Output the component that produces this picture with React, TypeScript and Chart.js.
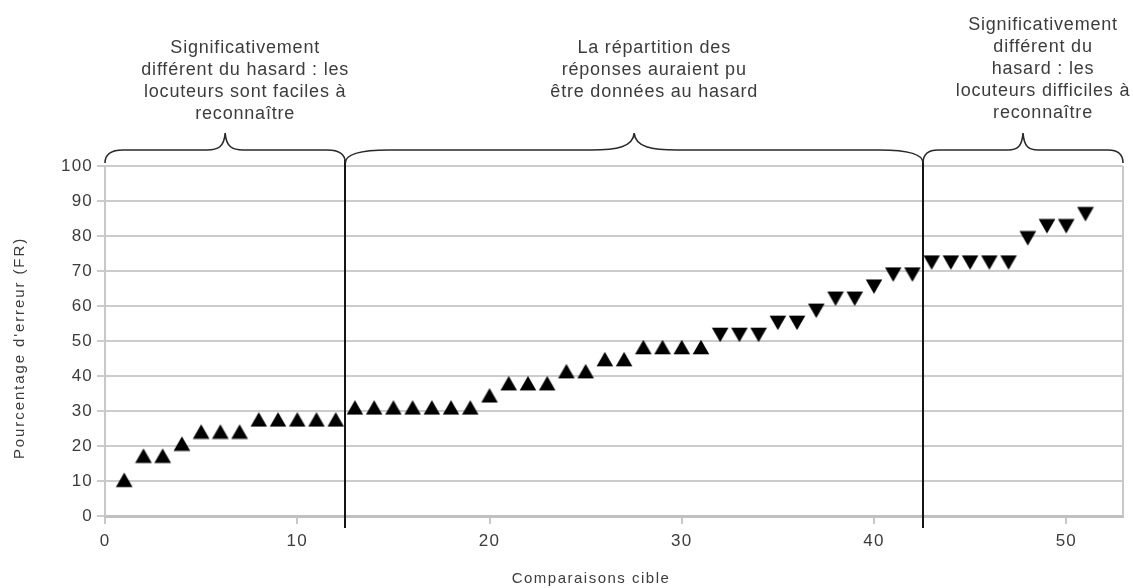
import React, { useEffect, useRef } from 'react';
import { Chart, registerables } from 'chart.js';

Chart.register(...registerables);

// ---------- data ----------
const comparisons = [
  1, 2, 3, 4, 5, 6, 7, 8, 9, 10, 11, 12, 13, 14, 15, 16, 17, 18, 19, 20,
  21, 22, 23, 24, 25, 26, 27, 28, 29, 30, 31, 32, 33, 34, 35, 36, 37, 38, 39, 40,
  41, 42, 43, 44, 45, 46, 47, 48, 49, 50, 51,
];
const errorRates = [
  10.34, 17.24, 17.24, 20.69, 24.14, 24.14, 24.14, 27.59, 27.59, 27.59, 27.59, 27.59,
  31.03, 31.03, 31.03, 31.03, 31.03, 31.03, 31.03, 34.48,
  37.93, 37.93, 37.93, 41.38, 41.38, 44.83, 44.83, 48.28, 48.28, 48.28, 48.28,
  51.72, 51.72, 51.72, 55.17, 55.17, 58.62, 62.07, 62.07, 65.52,
  68.97, 68.97, 72.41, 72.41, 72.41, 72.41, 72.41, 79.31, 82.76, 82.76, 86.21,
];
// markers point up for comparisons up to this one, down afterwards
const LAST_UP_MARKER = 31;

const yTickMin = 0;
const yTickMax = 100;
const yTickStep = 10;
const xMin = 0;
const xMax = 52.95;
const xTickStep = 10;

// group boundaries (x values) for the braces / separators
const groupBounds = [0, 12.5, 42.55, 52.95];
const groupLabels = [
  ['Significativement', 'différent du hasard : les', 'locuteurs sont faciles à', 'reconnaître'],
  ['La répartition des', 'réponses auraient pu', 'être données au hasard'],
  ['Significativement', 'différent du', 'hasard : les', 'locuteurs difficiles à', 'reconnaître'],
];
const xAxisTitle = 'Comparaisons cible';
const yAxisTitle = "Pourcentage d'erreur (FR)";

// ---------- style ----------
const FONT = "'Liberation Sans', Arial, Helvetica, sans-serif";
const TEXT = '#3c3c3c';
const GRID = '#cccccc';
const labelFirstBaseline = [53, 53, 30];
const labelLineHeight = 22;
const labelShiftX = 20;

function makeTriangle(): HTMLCanvasElement {
  const c = document.createElement('canvas');
  c.width = 18;
  c.height = 16;
  const g = c.getContext('2d')!;
  g.fillStyle = '#000';
  g.beginPath();
  g.moveTo(9, 0.8);
  g.lineTo(17.3, 15.2);
  g.lineTo(0.7, 15.2);
  g.closePath();
  g.fill();
  return c;
}

function drawBrace(ctx: CanvasRenderingContext2D, x1: number, x2: number, yEnd: number, yH: number, yTip: number) {
  const w = x2 - x1;
  const s = Math.max(14, w * 0.075);
  const mid = (x1 + x2) / 2;
  ctx.beginPath();
  ctx.moveTo(x1, yEnd);
  ctx.bezierCurveTo(x1, yH + (yEnd - yH) * 0.3, x1 + s * 0.35, yH, x1 + s, yH);
  ctx.lineTo(mid - s, yH);
  ctx.bezierCurveTo(mid - s * 0.4, yH, mid - 1, yH - 3, mid, yTip);
  ctx.bezierCurveTo(mid + 1, yH - 3, mid + s * 0.4, yH, mid + s, yH);
  ctx.lineTo(x2 - s, yH);
  ctx.bezierCurveTo(x2 - s * 0.35, yH, x2, yH + (yEnd - yH) * 0.3, x2, yEnd);
  ctx.stroke();
}

const overlayPlugin = {
  id: 'overlay',
  beforeDraw(chart: any) {
    (chart.ctx as any).letterSpacing = '1.2px';
  },
  afterDraw(chart: any) {
    const { ctx, chartArea, scales } = chart;
    const xs = scales.x;
    ctx.save();
    (ctx as any).letterSpacing = '0px';

    // right border of plot
    ctx.strokeStyle = '#c8c8c8';
    ctx.lineWidth = 2;
    ctx.beginPath();
    ctx.moveTo(chartArea.right, chartArea.top);
    ctx.lineTo(chartArea.right, chartArea.bottom);
    ctx.stroke();

    const yEnd = chartArea.top - 3;
    const yH = chartArea.top - 16;
    const yTip = chartArea.top - 33;

    // separators
    ctx.strokeStyle = '#151515';
    ctx.lineWidth = 2;
    for (let i = 1; i < groupBounds.length - 1; i++) {
      const px = Math.round(xs.getPixelForValue(groupBounds[i]));
      ctx.beginPath();
      ctx.moveTo(px, yH + 10);
      ctx.lineTo(px, chartArea.bottom + 12);
      ctx.stroke();
    }

    // braces
    ctx.strokeStyle = '#2a2a2a';
    ctx.lineWidth = 1.6;
    for (let i = 0; i < groupBounds.length - 1; i++) {
      const a = xs.getPixelForValue(groupBounds[i]);
      const b = xs.getPixelForValue(groupBounds[i + 1]);
      drawBrace(ctx, a, b, yEnd, yH, yTip);
    }

    // group labels
    ctx.fillStyle = TEXT;
    ctx.font = `18px ${FONT}`;
    ctx.textAlign = 'center';
    ctx.textBaseline = 'alphabetic';
    (ctx as any).letterSpacing = '0.8px';
    for (let i = 0; i < groupLabels.length; i++) {
      const a = xs.getPixelForValue(groupBounds[i]);
      const b = xs.getPixelForValue(groupBounds[i + 1]);
      const cx = (a + b) / 2 + labelShiftX;
      groupLabels[i].forEach((line, j) => {
        ctx.fillText(line, cx, labelFirstBaseline[i] + j * labelLineHeight);
      });
    }

    // axis titles
    ctx.font = `15px ${FONT}`;
    (ctx as any).letterSpacing = '1.5px';
    ctx.fillText(xAxisTitle, (chartArea.left + chartArea.right) / 2 - 23, 583);

    (ctx as any).letterSpacing = '1.9px';
    ctx.translate(24, (chartArea.top + chartArea.bottom) / 2 + 7);
    ctx.rotate(-Math.PI / 2);
    ctx.fillText(yAxisTitle, 0, 0);

    ctx.restore();
  },
};

export default function App() {
  const canvasRef = useRef<HTMLCanvasElement | null>(null);

  useEffect(() => {
    if (!canvasRef.current) return;
    const tri = makeTriangle();
    const chart = new Chart(canvasRef.current, {
      type: 'scatter',
      data: {
        datasets: [
          {
            data: comparisons.map((x, i) => ({ x, y: errorRates[i] })),
            pointStyle: tri as any,
            pointRadius: 9,
            pointRotation: comparisons.map((x) => (x > LAST_UP_MARKER ? 180 : 0)),
            backgroundColor: '#000',
            borderColor: '#000',
          },
        ],
      },
      options: {
        responsive: false,
        animation: false,
        devicePixelRatio: 1,
        layout: { padding: { top: 166, right: 8, left: 0, bottom: 0 } },
        plugins: { legend: { display: false }, tooltip: { enabled: false } },
        scales: {
          x: {
            type: 'linear',
            min: xMin,
            max: xMax,
            ticks: {
              stepSize: xTickStep,
              includeBounds: false,
              color: TEXT,
              font: { family: FONT, size: 17 },
              padding: 7,
              maxRotation: 0,
            },
            grid: { drawOnChartArea: false, drawTicks: true, tickLength: 8, color: '#c8c8c8', lineWidth: 2 },
            border: { display: true, color: '#c0c0c0', width: 3 },
            afterFit: (s: any) => {
              s.height = 72;
            },
          },
          y: {
            type: 'linear',
            min: yTickMin,
            max: yTickMax,
            ticks: { stepSize: yTickStep, color: TEXT, font: { family: FONT, size: 17 }, padding: 4 },
            grid: { color: GRID, lineWidth: 2, tickLength: 8 },
            border: { display: true, color: '#c8c8c8', width: 2 },
            afterFit: (s: any) => {
              s.width = 105;
            },
          },
        },
      },
      plugins: [overlayPlugin],
    } as any);
    return () => chart.destroy();
  }, []);

  return (
    <div style={{ position: 'fixed', left: 0, top: 0, width: 1133, height: 588, background: '#fff' }}>
      <canvas ref={canvasRef} width={1133} height={588} style={{ display: 'block', width: 1133, height: 588 }} />
    </div>
  );
}
